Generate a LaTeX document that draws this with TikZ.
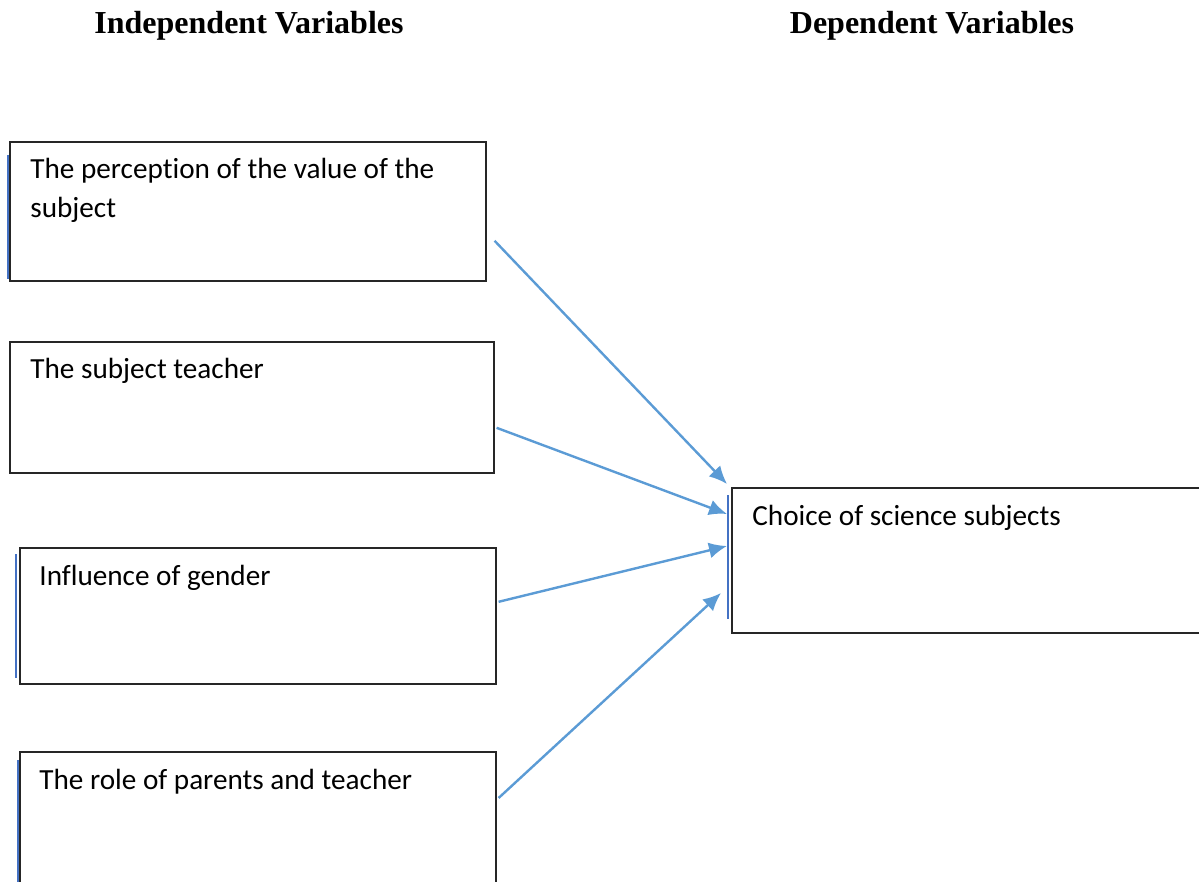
\documentclass[tikz,border=0pt]{standalone}
\usepackage{fontspec}
\setmainfont[Ligatures=NoCommon]{Carlito}
\newfontfamily\headfont{Liberation Serif}
\usetikzlibrary{arrows.meta,positioning}
\definecolor{arrowblue}{RGB}{91,155,213}
\definecolor{stripblue}{RGB}{68,114,196}
\tikzset{%
	varbox/.style  = {draw=black!85, line width=0.8pt, rectangle, anchor=north west, minimum width=238pt, minimum height=68pt},
	boxtext/.style = {inner sep=0pt, align=left, font=\fontsize{14.6}{19.5}\selectfont},
	heading/.style = {anchor=base, font=\headfont\bfseries\fontsize{16}{19}\selectfont},
	link/.style    = {arrowblue, line width=1.2pt, -{Latex[length=9pt,width=8pt]}},
	strip/.style   = {stripblue, line width=1pt},
}

\begin{document}
\begin{tikzpicture}[x=0.5pt, y=-0.5pt]
	\useasboundingbox (0,0) rectangle (1199,882);
	\clip (0,0) rectangle (1199,882);
	% headings
	\node[heading] (hind) at (249,34) {Independent Variables};
	\node[heading] (hdep) at (932,34) {Dependent Variables};
	% independent variables
	\node[varbox, minimum height=69.5pt] (b1) at (9,141) {};
	\node[varbox, minimum width=242pt, minimum height=65.5pt] (b2) at (9,341) {};
	\node[varbox] (b3) at (19,547) {};
	\node[varbox, minimum height=80pt] (b4) at (19,751) {};
	% dependent variable
	\node[varbox, minimum width=260pt, minimum height=72.5pt] (choice) at (731,487) {};
	% texts
	\node[boxtext, below right=8.6pt and 10.5pt of b1.north west] (t1) {The perception of the value of the\\subject};
	\node[boxtext, below right=8.6pt and 10.5pt of b2.north west] (t2) {The subject teacher};
	\node[boxtext, below right=9pt and 10pt of b3.north west] (t3) {Influence of gender};
	\node[boxtext, below right=9pt and 10pt of b4.north west] (t4) {The role of parents and teacher};
	\node[boxtext, below right=9pt and 10.5pt of choice.north west] (tc) {Choice of science subjects};
	% side marks
	\draw[strip] ([xshift=-0.5pt,yshift=-7pt]b1.north west) -- ([xshift=-0.5pt,yshift=1.5pt]b1.south west);
	\draw[strip] ([xshift=-1.5pt,yshift=-3.5pt]b3.north west) -- ([xshift=-1.5pt,yshift=3.5pt]b3.south west);
	\draw[strip] ([xshift=-0.5pt,yshift=-4.5pt]b4.north west) -- ([xshift=-0.5pt]b4.south west);
	\draw[strip] ([xshift=-1.5pt,yshift=-4pt]choice.north west) -- ([xshift=-1.5pt,yshift=7.5pt]choice.south west);
	% arrows
	\draw[link] ([xshift=4pt,yshift=-14.75pt]b1.east) -- ([xshift=-2pt,yshift=1.5pt]choice.north west);
	\draw[link] ([xshift=1pt,yshift=-10.25pt]b2.east) -- ([xshift=-2pt,yshift=-13.5pt]choice.north west);
	\draw[link] ([xshift=1pt,yshift=7pt]b3.east) -- ([xshift=-2pt,yshift=-29.5pt]choice.north west);
	\draw[link] ([xshift=1pt,yshift=-23.5pt]b4.north east) -- ([xshift=-5pt,yshift=-53pt]choice.north west);
\end{tikzpicture}
\end{document}
